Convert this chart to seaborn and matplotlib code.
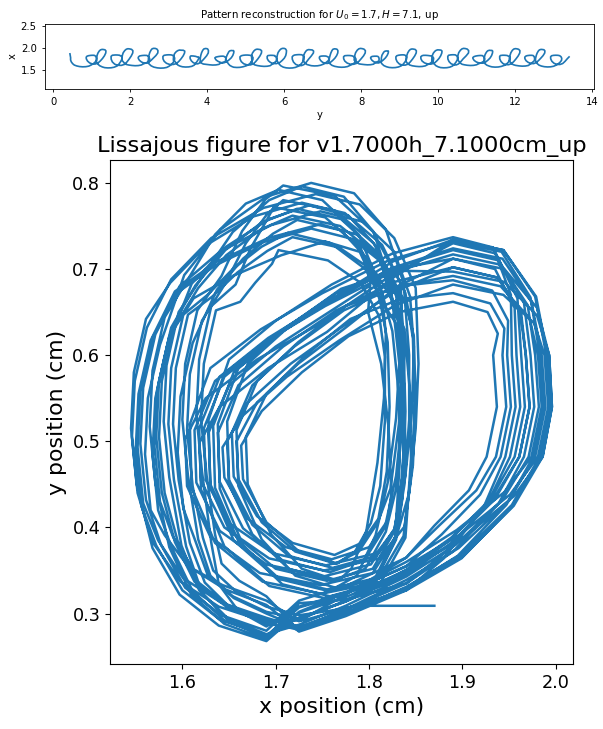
import numpy as np
import pandas as pd
import matplotlib
matplotlib.use("Agg")
import matplotlib.pyplot as plt
import seaborn as sns

# Tracked marker position (cm); after the first three frames, one row per oscillation cycle
x_pos = [
    1.870, 1.785, 1.730,
    1.690, 1.648, 1.615, 1.595, 1.581, 1.575, 1.578, 1.591, 1.617, 1.647, 1.684, 1.718, 1.769, 1.808, 1.834, 1.838, 1.836, 1.829, 1.817, 1.795, 1.758, 1.707, 1.665, 1.640, 1.638, 1.660, 1.708, 1.765, 1.827, 1.890, 1.938, 1.962, 1.968, 1.972, 1.961, 1.935, 1.888, 1.840, 1.775, 1.725,
    1.690, 1.640, 1.600, 1.572, 1.556, 1.550, 1.553, 1.566, 1.592, 1.636, 1.692, 1.748, 1.787, 1.816, 1.826, 1.838, 1.844, 1.845, 1.839, 1.813, 1.749, 1.686, 1.635, 1.610, 1.608, 1.630, 1.684, 1.750, 1.821, 1.890, 1.942, 1.973, 1.983, 1.987, 1.976, 1.947, 1.895, 1.840, 1.775, 1.725,
    1.690, 1.655, 1.630, 1.617, 1.606, 1.600, 1.603, 1.616, 1.642, 1.664, 1.689, 1.708, 1.763, 1.804, 1.834, 1.836, 1.832, 1.823, 1.809, 1.789, 1.764, 1.721, 1.685, 1.660, 1.658, 1.680, 1.724, 1.775, 1.831, 1.890, 1.945, 1.980, 1.993, 1.996, 1.986, 1.955, 1.900, 1.840, 1.775, 1.725,
    1.690, 1.639, 1.597, 1.568, 1.551, 1.545, 1.548, 1.561, 1.587, 1.626, 1.676, 1.728, 1.774, 1.814, 1.839, 1.847, 1.849, 1.846, 1.837, 1.811, 1.755, 1.700, 1.655, 1.630, 1.628, 1.650, 1.700, 1.760, 1.825, 1.890, 1.933, 1.952, 1.953, 1.957, 1.946, 1.923, 1.880, 1.840, 1.775, 1.725,
    1.690, 1.646, 1.612, 1.590, 1.576, 1.570, 1.573, 1.586, 1.612, 1.654, 1.706, 1.753, 1.790, 1.802, 1.799, 1.813, 1.821, 1.824, 1.820, 1.800, 1.760, 1.711, 1.670, 1.645, 1.643, 1.665, 1.712, 1.768, 1.828, 1.890, 1.944, 1.977, 1.988, 1.992, 1.981, 1.951, 1.898, 1.840, 1.775, 1.725,
    1.690, 1.660, 1.639, 1.631, 1.621, 1.615, 1.618, 1.631, 1.657, 1.673, 1.690, 1.698, 1.753, 1.791, 1.814, 1.818, 1.816, 1.809, 1.797, 1.781, 1.767, 1.728, 1.695, 1.670, 1.668, 1.690, 1.732, 1.780, 1.833, 1.890, 1.930, 1.945, 1.943, 1.947, 1.936, 1.915, 1.875, 1.840, 1.775, 1.725,
    1.690, 1.643, 1.606, 1.581, 1.566, 1.560, 1.563, 1.576, 1.602, 1.641, 1.690, 1.738, 1.784, 1.818, 1.837, 1.843, 1.843, 1.838, 1.828, 1.803, 1.752, 1.693, 1.645, 1.620, 1.618, 1.640, 1.692, 1.755, 1.823, 1.890, 1.939, 1.966, 1.973, 1.977, 1.966, 1.939, 1.890, 1.840, 1.775, 1.725,
    1.690, 1.651, 1.621, 1.604, 1.591, 1.585, 1.588, 1.601, 1.627, 1.654, 1.685, 1.713, 1.759, 1.796, 1.818, 1.830, 1.836, 1.837, 1.831, 1.808, 1.761, 1.714, 1.675, 1.650, 1.648, 1.670, 1.716, 1.770, 1.829, 1.890, 1.945, 1.980, 1.993, 1.996, 1.986, 1.955, 1.900, 1.840, 1.775, 1.725,
    1.690, 1.639, 1.598, 1.568, 1.552, 1.546, 1.549, 1.562, 1.588, 1.631, 1.687, 1.743, 1.790, 1.827, 1.850, 1.853, 1.850, 1.843, 1.830, 1.804, 1.748, 1.683, 1.630, 1.605, 1.603, 1.625, 1.680, 1.748, 1.820, 1.890, 1.936, 1.959, 1.963, 1.967, 1.956, 1.931, 1.885, 1.840, 1.775, 1.725,
    1.690, 1.654, 1.627, 1.613, 1.601, 1.595, 1.598, 1.611, 1.637, 1.665, 1.697, 1.723, 1.770, 1.798, 1.812, 1.820, 1.822, 1.819, 1.810, 1.792, 1.763, 1.718, 1.680, 1.655, 1.653, 1.675, 1.720, 1.773, 1.830, 1.890, 1.941, 1.972, 1.981, 1.985, 1.974, 1.945, 1.894, 1.840, 1.775, 1.725,
    1.690, 1.645, 1.609, 1.586, 1.571, 1.565, 1.568, 1.581, 1.607, 1.635, 1.668, 1.703, 1.750, 1.789, 1.812, 1.825, 1.832, 1.833, 1.828, 1.806, 1.757, 1.704, 1.660, 1.635, 1.633, 1.655, 1.704, 1.763, 1.826, 1.890, 1.944, 1.978, 1.990, 1.994, 1.983, 1.953, 1.898, 1.840, 1.775, 1.725,
    1.690, 1.661, 1.642, 1.635, 1.626, 1.620, 1.623, 1.636, 1.662, 1.678, 1.696, 1.703, 1.756, 1.791, 1.811, 1.817, 1.817, 1.812, 1.802, 1.785, 1.766, 1.725, 1.690, 1.665, 1.663, 1.685, 1.728, 1.778, 1.832, 1.890, 1.927, 1.938, 1.933, 1.937, 1.926, 1.907, 1.870, 1.840, 1.775, 1.725,
    1.690, 1.642, 1.603, 1.577, 1.561, 1.555, 1.558, 1.571, 1.597, 1.640, 1.695, 1.748, 1.793, 1.827, 1.844, 1.848, 1.846, 1.839, 1.827, 1.802, 1.751, 1.690, 1.640, 1.615, 1.613, 1.635, 1.688, 1.753, 1.822, 1.890, 1.941, 1.970, 1.978, 1.982, 1.971, 1.943, 1.893, 1.840, 1.775, 1.725,
    1.690, 1.649, 1.618, 1.599, 1.586, 1.580, 1.583, 1.596, 1.622, 1.654, 1.693, 1.728, 1.773, 1.805, 1.823, 1.833, 1.837, 1.836, 1.829, 1.805, 1.758, 1.707, 1.665, 1.640, 1.638, 1.660, 1.708, 1.765, 1.827, 1.890, 1.935, 1.956, 1.958, 1.962, 1.951, 1.927, 1.883, 1.840, 1.775, 1.725,
    1.690, 1.641, 1.601, 1.574, 1.558, 1.552, 1.555, 1.568, 1.594, 1.635, 1.686, 1.738, 1.782, 1.818, 1.840, 1.848, 1.850, 1.847, 1.838, 1.811, 1.752, 1.693, 1.645, 1.620, 1.618, 1.640, 1.692, 1.755, 1.823, 1.890, 1.944, 1.979, 1.991, 1.995, 1.984, 1.953, 1.899, 1.840, 1.775, 1.725,
    1.690, 1.657, 1.633, 1.622, 1.611, 1.605, 1.608, 1.621, 1.647, 1.668, 1.691, 1.708, 1.763, 1.805, 1.831, 1.833, 1.829, 1.820, 1.807, 1.787, 1.764, 1.721, 1.685, 1.660, 1.658, 1.680, 1.724, 1.775, 1.831, 1.890, 1.932, 1.949, 1.948, 1.952, 1.941, 1.919, 1.878, 1.840, 1.775, 1.725,
    1.690, 1.645, 1.611, 1.588, 1.574, 1.568, 1.571, 1.584, 1.610, 1.647, 1.693, 1.736, 1.778, 1.808, 1.822, 1.833, 1.838, 1.839, 1.832, 1.808, 1.754, 1.697, 1.650, 1.625, 1.623, 1.645, 1.696, 1.758, 1.824, 1.890, 1.943, 1.974, 1.985, 1.989, 1.978, 1.949, 1.896, 1.840, 1.775, 1.725,
    1.690, 1.652, 1.624, 1.608, 1.596, 1.590, 1.593, 1.606, 1.632, 1.659, 1.691, 1.718, 1.768, 1.807, 1.832, 1.837, 1.836, 1.829, 1.818, 1.796, 1.761, 1.714, 1.675, 1.650, 1.648, 1.670, 1.716, 1.770, 1.829, 1.890, 1.938, 1.963, 1.968, 1.972, 1.961, 1.935, 1.888, 1.840, 1.775, 1.725,
    1.690, 1.647, 1.613, 1.592, 1.578, 1.572, 1.575, 1.588, 1.614, 1.646, 1.685, 1.723, 1.770, 1.806, 1.829, 1.837, 1.839, 1.836, 1.827, 1.804, 1.755, 1.700, 1.655, 1.630, 1.628, 1.650, 1.700, 1.760, 1.800,
]

y_pos = [
    0.309, 0.309, 0.292,
    0.292, 0.310, 0.338, 0.384, 0.440, 0.505, 0.570, 0.632, 0.678, 0.716, 0.746, 0.762, 0.750, 0.716, 0.665, 0.610, 0.535, 0.460, 0.400, 0.362, 0.348, 0.362, 0.399, 0.453, 0.510, 0.565, 0.610, 0.652, 0.685, 0.702, 0.690, 0.649, 0.600, 0.540, 0.482, 0.433, 0.382, 0.345, 0.314, 0.295,
    0.275, 0.293, 0.327, 0.379, 0.425, 0.490, 0.555, 0.617, 0.674, 0.708, 0.736, 0.752, 0.740, 0.708, 0.660, 0.630, 0.555, 0.480, 0.388, 0.337, 0.323, 0.337, 0.382, 0.446, 0.520, 0.585, 0.630, 0.672, 0.710, 0.732, 0.720, 0.667, 0.600, 0.540, 0.482, 0.426, 0.367, 0.330, 0.301, 0.284,
    0.300, 0.318, 0.344, 0.386, 0.460, 0.525, 0.590, 0.652, 0.692, 0.744, 0.781, 0.797, 0.785, 0.744, 0.683, 0.595, 0.520, 0.445, 0.405, 0.372, 0.358, 0.372, 0.406, 0.456, 0.500, 0.545, 0.590, 0.632, 0.680, 0.712, 0.700, 0.655, 0.600, 0.540, 0.482, 0.436, 0.387, 0.350, 0.319, 0.301,
    0.268, 0.286, 0.322, 0.376, 0.450, 0.515, 0.580, 0.642, 0.684, 0.728, 0.761, 0.777, 0.765, 0.728, 0.672, 0.620, 0.545, 0.470, 0.390, 0.342, 0.328, 0.342, 0.385, 0.447, 0.525, 0.595, 0.640, 0.682, 0.718, 0.737, 0.725, 0.670, 0.600, 0.540, 0.482, 0.424, 0.364, 0.327, 0.297, 0.279,
    0.310, 0.328, 0.351, 0.389, 0.430, 0.495, 0.560, 0.622, 0.666, 0.692, 0.716, 0.732, 0.720, 0.692, 0.650, 0.590, 0.515, 0.440, 0.408, 0.377, 0.363, 0.377, 0.410, 0.458, 0.493, 0.530, 0.575, 0.617, 0.658, 0.682, 0.670, 0.637, 0.600, 0.540, 0.482, 0.438, 0.392, 0.355, 0.324, 0.308,
    0.285, 0.303, 0.334, 0.382, 0.465, 0.530, 0.595, 0.657, 0.682, 0.724, 0.756, 0.772, 0.760, 0.724, 0.670, 0.625, 0.550, 0.475, 0.395, 0.352, 0.338, 0.352, 0.392, 0.450, 0.505, 0.555, 0.600, 0.642, 0.665, 0.672, 0.660, 0.631, 0.600, 0.540, 0.482, 0.443, 0.402, 0.365, 0.322, 0.291,
    0.315, 0.333, 0.355, 0.391, 0.420, 0.485, 0.550, 0.612, 0.693, 0.746, 0.784, 0.800, 0.788, 0.746, 0.684, 0.600, 0.525, 0.450, 0.385, 0.332, 0.318, 0.332, 0.378, 0.444, 0.515, 0.575, 0.620, 0.662, 0.700, 0.722, 0.710, 0.661, 0.600, 0.540, 0.482, 0.428, 0.372, 0.335, 0.316, 0.312,
    0.272, 0.290, 0.324, 0.378, 0.455, 0.520, 0.585, 0.647, 0.670, 0.700, 0.726, 0.742, 0.730, 0.700, 0.655, 0.635, 0.560, 0.485, 0.403, 0.367, 0.353, 0.367, 0.403, 0.455, 0.523, 0.590, 0.635, 0.677, 0.698, 0.697, 0.685, 0.646, 0.600, 0.540, 0.482, 0.425, 0.366, 0.329, 0.300, 0.281,
    0.290, 0.308, 0.337, 0.383, 0.440, 0.505, 0.570, 0.632, 0.688, 0.736, 0.771, 0.787, 0.775, 0.736, 0.678, 0.590, 0.515, 0.440, 0.392, 0.347, 0.333, 0.347, 0.389, 0.448, 0.503, 0.550, 0.595, 0.637, 0.690, 0.730, 0.718, 0.666, 0.600, 0.540, 0.482, 0.434, 0.384, 0.347, 0.314, 0.294,
    0.302, 0.320, 0.345, 0.387, 0.422, 0.487, 0.552, 0.614, 0.676, 0.712, 0.741, 0.757, 0.745, 0.712, 0.662, 0.615, 0.540, 0.465, 0.410, 0.382, 0.368, 0.382, 0.413, 0.459, 0.510, 0.565, 0.610, 0.652, 0.680, 0.692, 0.680, 0.643, 0.600, 0.540, 0.482, 0.441, 0.397, 0.360, 0.324, 0.302,
    0.270, 0.288, 0.323, 0.377, 0.452, 0.517, 0.582, 0.644, 0.690, 0.740, 0.776, 0.792, 0.780, 0.740, 0.680, 0.628, 0.553, 0.478, 0.389, 0.340, 0.326, 0.340, 0.384, 0.446, 0.518, 0.580, 0.625, 0.667, 0.709, 0.734, 0.722, 0.668, 0.600, 0.540, 0.482, 0.426, 0.368, 0.331, 0.300, 0.280,
    0.320, 0.338, 0.358, 0.392, 0.460, 0.525, 0.590, 0.652, 0.662, 0.684, 0.706, 0.722, 0.710, 0.684, 0.645, 0.598, 0.523, 0.448, 0.405, 0.372, 0.358, 0.372, 0.406, 0.456, 0.495, 0.535, 0.580, 0.622, 0.650, 0.662, 0.650, 0.625, 0.600, 0.540, 0.482, 0.443, 0.402, 0.365, 0.332, 0.315,
    0.280, 0.298, 0.330, 0.380, 0.432, 0.497, 0.562, 0.624, 0.680, 0.720, 0.751, 0.767, 0.755, 0.720, 0.668, 0.610, 0.535, 0.460, 0.398, 0.357, 0.343, 0.357, 0.396, 0.452, 0.513, 0.570, 0.615, 0.657, 0.695, 0.717, 0.705, 0.658, 0.600, 0.540, 0.482, 0.432, 0.380, 0.343, 0.309, 0.287,
    0.276, 0.294, 0.327, 0.379, 0.458, 0.523, 0.588, 0.650, 0.692, 0.743, 0.780, 0.796, 0.784, 0.743, 0.682, 0.585, 0.510, 0.435, 0.386, 0.334, 0.320, 0.334, 0.379, 0.445, 0.520, 0.585, 0.630, 0.672, 0.700, 0.712, 0.700, 0.655, 0.600, 0.540, 0.482, 0.428, 0.372, 0.335, 0.304, 0.284,
    0.295, 0.313, 0.341, 0.385, 0.428, 0.493, 0.558, 0.620, 0.672, 0.704, 0.731, 0.747, 0.735, 0.704, 0.658, 0.622, 0.547, 0.472, 0.401, 0.364, 0.350, 0.364, 0.400, 0.454, 0.498, 0.540, 0.585, 0.627, 0.688, 0.734, 0.722, 0.668, 0.600, 0.540, 0.482, 0.424, 0.364, 0.327, 0.306, 0.298,
    0.308, 0.326, 0.350, 0.388, 0.448, 0.513, 0.578, 0.640, 0.685, 0.730, 0.764, 0.780, 0.768, 0.730, 0.674, 0.602, 0.527, 0.452, 0.391, 0.344, 0.330, 0.344, 0.386, 0.448, 0.513, 0.570, 0.615, 0.657, 0.680, 0.687, 0.675, 0.640, 0.600, 0.540, 0.482, 0.438, 0.392, 0.355, 0.323, 0.307,
    0.274, 0.292, 0.326, 0.378, 0.420, 0.485, 0.550, 0.612, 0.683, 0.726, 0.758, 0.774, 0.762, 0.726, 0.671, 0.632, 0.557, 0.482, 0.404, 0.370, 0.356, 0.370, 0.405, 0.455, 0.515, 0.575, 0.620, 0.662, 0.701, 0.724, 0.712, 0.662, 0.600, 0.540, 0.482, 0.430, 0.376, 0.339, 0.305, 0.283,
    0.288, 0.306, 0.336, 0.382, 0.455, 0.520, 0.585, 0.647, 0.668, 0.696, 0.721, 0.737, 0.725, 0.696, 0.652, 0.595, 0.520, 0.445, 0.395, 0.352, 0.338, 0.352, 0.392, 0.450, 0.500, 0.545, 0.590, 0.632, 0.675, 0.702, 0.690, 0.649, 0.600, 0.540, 0.482, 0.436, 0.388, 0.351, 0.315, 0.293,
    0.290, 0.308, 0.337, 0.383, 0.440, 0.505, 0.570, 0.632, 0.681, 0.722, 0.754, 0.770, 0.758, 0.722, 0.669, 0.610, 0.535, 0.460, 0.395, 0.352, 0.338, 0.352, 0.392, 0.450, 0.510, 0.565, 0.610, 0.652, 0.680,
]

# Belt drift used to unroll the trajectory into the deposited pattern
U0 = 1.7
H = 7.1
drift_start = 0.13        # belt offset at the first frame
drift_per_frame = 0.016764

track = pd.DataFrame({"x": x_pos, "y": y_pos})
track["frame"] = np.arange(len(track))
track["y_belt"] = track["y"] + drift_start + drift_per_frame * track["frame"]

blue = "#1f77b4"
W, Hpx = 603, 729
fig = plt.figure(figsize=(W / 100, Hpx / 100), dpi=100)


def axes_box(left, top, right, bottom):
    return [left / W, 1 - bottom / Hpx, (right - left) / W, (bottom - top) / Hpx]


# Reconstructed pattern on the moving belt
ax_top = fig.add_axes(axes_box(45, 24, 594, 89))
sns.lineplot(data=track, x="y_belt", y="x", sort=False, estimator=None,
             color=blue, linewidth=1.2, ax=ax_top)
ax_top.set_ylim(1.07, 2.55)
ax_top.set_xticks([0, 2, 4, 6, 8, 10, 12, 14])
ax_top.set_yticks([1.5, 2.0, 2.5])
ax_top.tick_params(labelsize=7.2, length=2.5, width=0.6)
ax_top.set_xlabel("y", fontsize=7.2, labelpad=2)
ax_top.set_ylabel("x", fontsize=7.2, labelpad=2)
ax_top.set_title(rf"Pattern reconstruction for $U_0 = {U0}, H = {H}$, up",
                 fontsize=7.4, pad=4)
for s in ax_top.spines.values():
    s.set_linewidth(0.6)

# Lissajous figure of the tracked position
ax_bot = fig.add_axes(axes_box(110, 160, 573, 664))
sns.lineplot(data=track, x="x", y="y", sort=False, estimator=None,
             color=blue, linewidth=1.8, ax=ax_bot)
ax_bot.set_xticks([1.6, 1.7, 1.8, 1.9, 2.0])
ax_bot.set_yticks([0.3, 0.4, 0.5, 0.6, 0.7, 0.8])
ax_bot.tick_params(labelsize=12.7)
ax_bot.set_xlabel("x position (cm)", fontsize=15.8)
ax_bot.set_ylabel("y position (cm)", fontsize=15.8)
ax_bot.set_title("Lissajous figure for v1.7000h_7.1000cm_up", fontsize=16.2)

fig.savefig("out.png", dpi=100)
